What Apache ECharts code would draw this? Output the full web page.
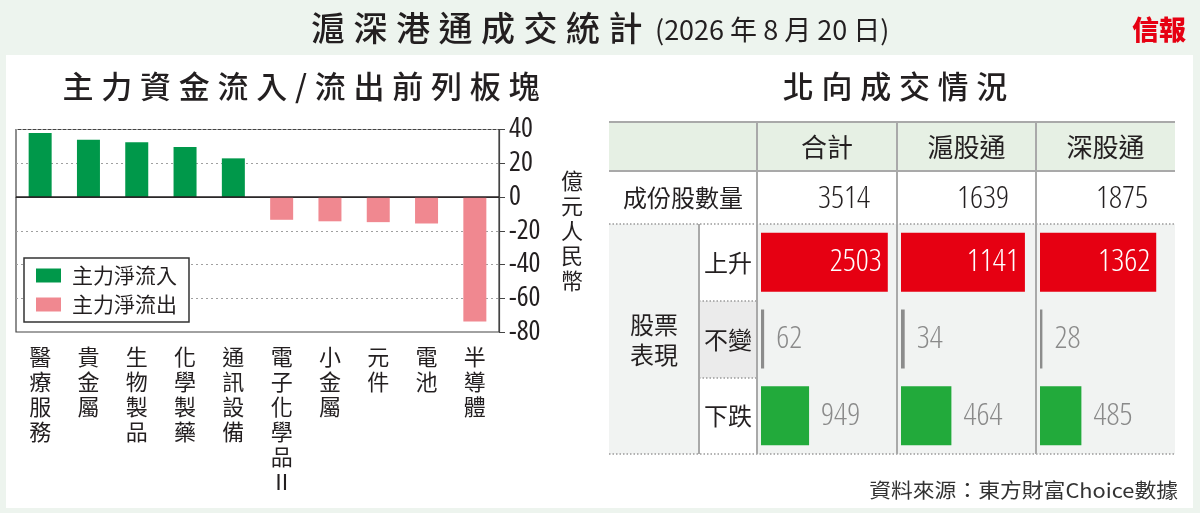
<!DOCTYPE html>
<html>
<head>
<meta charset="utf-8">
<script src="https://cdn.jsdelivr.net/npm/echarts@6/dist/echarts.min.js"></script>
<style>
  html, body { margin: 0; padding: 0; background: #edf4ee; }
  #chart { width: 1200px; height: 513px; }
</style>
</head>
<body>
<div id="chart"></div>
<script>
// left chart: top sectors by main capital flow (億元人民幣)
const sectors = ['醫療服務', '貴金屬', '生物製品', '化學製藥', '通訊設備', '電子化學品Ⅱ', '小金屬', '元件', '電池', '半導體'];
const inflow = [38.0, 33.9, 32.5, 29.6, 22.9, '-', '-', '-', '-', '-'];
const outflow = ['-', '-', '-', '-', '-', -13.5, -14.4, -14.9, -15.7, -73.8];
const legendNames = ['主力淨流入', '主力淨流出'];

// right table: northbound trading
const tableCols = ['合計', '滬股通', '深股通'];
const constituents = [3514, 1639, 1875];
const rising = [2503, 1141, 1362];
const unchanged = [62, 34, 28];
const falling = [949, 464, 485];
const perfRows = ['上升', '不變', '下跌'];

const CJK = '"Noto Sans CJK TC", "Noto Sans CJK SC", sans-serif';
const NUM = '"Open Sans", sans-serif';
const INK = '#231f20';

// wide tracking for the headings
const spaced = (s) => s.split('').join('\u2005');

const chart = echarts.init(document.getElementById('chart'));

// table geometry
const colEdges = [757, 897, 1036, 1175];
const tblLeft = 609, subCol = 699;
const rowY = [122, 171, 224, 301, 378, 454];

const graphics = [];
// white panel
graphics.push({ type: 'rect', z: -10, shape: { x: 6, y: 55, width: 1187, height: 453 }, style: { fill: '#fff' } });
// titles
graphics.push({ type: 'text', x: 311, y: 28, style: { text: spaced('滬深港通成交統計'), font: '500 34px ' + CJK, fill: INK, verticalAlign: 'middle' } });
graphics.push({ type: 'text', x: 655, y: 30, style: { text: '(2026 年 8 月 20 日)', font: '27px ' + CJK, fill: INK, verticalAlign: 'middle' } });
graphics.push({ type: 'text', x: 1186, y: 30, style: { text: '信報', font: '900 27px ' + CJK, fill: '#e60012', align: 'right', verticalAlign: 'middle' } });
graphics.push({ type: 'text', x: 301, y: 86, style: { text: spaced('主力資金流入/流出前列板塊'), font: '500 31px ' + CJK, fill: INK, align: 'center', verticalAlign: 'middle' } });
graphics.push({ type: 'text', x: 895, y: 86, style: { text: spaced('北向成交情況'), font: '500 31px ' + CJK, fill: INK, align: 'center', verticalAlign: 'middle' } });

// table backgrounds
graphics.push({ type: 'rect', z: -5, shape: { x: tblLeft, y: rowY[0], width: 1175 - tblLeft, height: rowY[1] - rowY[0] }, style: { fill: '#e6f0e4' } });
graphics.push({ type: 'rect', z: -5, shape: { x: tblLeft, y: rowY[2], width: 1175 - tblLeft, height: rowY[5] - rowY[2] }, style: { fill: '#f1f3f2' } });
graphics.push({ type: 'rect', z: -4, shape: { x: subCol, y: rowY[2], width: colEdges[0] - subCol, height: rowY[3] - rowY[2] }, style: { fill: '#fff' } });
graphics.push({ type: 'rect', z: -4, shape: { x: subCol, y: rowY[3], width: colEdges[0] - subCol, height: rowY[4] - rowY[3] }, style: { fill: '#ebebeb' } });
graphics.push({ type: 'rect', z: -4, shape: { x: subCol, y: rowY[4], width: colEdges[0] - subCol, height: rowY[5] - rowY[4] }, style: { fill: '#fff' } });

// table lines
const solid = { stroke: '#a9a9a9', lineWidth: 2 };
const dotted = { stroke: '#9a9a9a', lineWidth: 1.5, lineDash: [1.5, 2] };
graphics.push({ type: 'line', shape: { x1: tblLeft, y1: rowY[0], x2: 1175, y2: rowY[0] }, style: solid });
graphics.push({ type: 'line', shape: { x1: tblLeft, y1: rowY[1], x2: 1175, y2: rowY[1] }, style: solid });
graphics.push({ type: 'line', shape: { x1: tblLeft, y1: rowY[2], x2: 1175, y2: rowY[2] }, style: dotted });
graphics.push({ type: 'line', shape: { x1: subCol, y1: rowY[3], x2: colEdges[0], y2: rowY[3] }, style: dotted });
graphics.push({ type: 'line', shape: { x1: subCol, y1: rowY[4], x2: colEdges[0], y2: rowY[4] }, style: dotted });
graphics.push({ type: 'line', shape: { x1: tblLeft, y1: rowY[5], x2: 1175, y2: rowY[5] }, style: dotted });
colEdges.slice(0, 3).forEach((x) => {
  graphics.push({ type: 'line', shape: { x1: x, y1: rowY[0], x2: x, y2: rowY[5] }, style: solid });
});
graphics.push({ type: 'line', shape: { x1: subCol, y1: rowY[2], x2: subCol, y2: rowY[5] }, style: solid });

// table texts
tableCols.forEach((name, i) => {
  const cx = (colEdges[i] + colEdges[i + 1]) / 2;
  graphics.push({ type: 'text', x: cx, y: 147, style: { text: name, font: '26px ' + CJK, fill: INK, align: 'center', verticalAlign: 'middle' } });
  graphics.push({ type: 'text', x: colEdges[i + 1] - 27, y: 199, style: { text: String(constituents[i]), font: 'condensed 300 32px ' + NUM, fill: INK, align: 'right', verticalAlign: 'middle' } });
});
graphics.push({ type: 'text', x: 683, y: 198, style: { text: '成份股數量', font: '24px ' + CJK, fill: INK, align: 'center', verticalAlign: 'middle' } });
perfRows.forEach((name, i) => {
  graphics.push({ type: 'text', x: 728, y: (rowY[i + 2] + rowY[i + 3]) / 2, style: { text: name, font: '24px ' + CJK, fill: INK, align: 'center', verticalAlign: 'middle' } });
});
graphics.push({ type: 'text', x: 654, y: 340, style: { text: '股票\n表現', font: '24px ' + CJK, lineHeight: 30, fill: INK, align: 'center', verticalAlign: 'middle' } });
graphics.push({ type: 'text', x: 1178, y: 490, scaleX: 1.09, style: { text: '資料來源：東方財富Choice數據', font: '20px ' + CJK, fill: '#333', align: 'right', verticalAlign: 'middle' } });

// grids: 0 = left chart, 1..3 = table bar cells
const grids = [{ left: 16, right: 701, top: 129.5, bottom: 181, show: true, borderColor: '#444', borderWidth: 1.2 }];
const xAxes = [{
  type: 'category',
  gridIndex: 0,
  data: sectors,
  axisLine: { lineStyle: { color: '#444', width: 1.2 } },
  axisTick: { alignWithLabel: true, length: 6, lineStyle: { color: '#444' } },
  axisLabel: {
    interval: 0,
    margin: 12,
    color: INK,
    fontFamily: CJK,
    fontSize: 22,
    lineHeight: 25,
    verticalAlign: 'top',
    formatter: (v) => v.split('').join('\n'),
  },
}];
const yAxes = [{
  type: 'value',
  gridIndex: 0,
  position: 'right',
  min: -80,
  max: 40,
  interval: 20,
  name: '億\n元\n人\n民\n幣',
  nameLocation: 'middle',
  nameGap: 62,
  nameRotate: 0,
  nameTextStyle: { fontFamily: CJK, fontSize: 22, lineHeight: 25, color: INK },
  axisLine: { show: true, lineStyle: { color: '#444', width: 1.2 } },
  axisTick: { show: true, length: 6, lineStyle: { color: '#444' } },
  axisLabel: { margin: 10, color: INK, fontFamily: NUM, fontWeight: 'condensed 400', fontSize: 28 },
  splitLine: { show: true, lineStyle: { color: '#a0a0a0', type: [2, 3], width: 1.2 } },
}];

const series = [
  {
    name: legendNames[0],
    type: 'bar',
    stack: 'flow',
    xAxisIndex: 0,
    yAxisIndex: 0,
    barWidth: 23,
    itemStyle: { color: '#00984a' },
    data: inflow,
    markLine: {
      silent: true,
      symbol: 'none',
      label: { show: false },
      lineStyle: { color: INK, type: 'solid', width: 1.6 },
      data: [{ yAxis: 0 }],
    },
  },
  {
    name: legendNames[1],
    type: 'bar',
    stack: 'flow',
    xAxisIndex: 0,
    yAxisIndex: 0,
    barWidth: 23,
    itemStyle: { color: '#f08890' },
    data: outflow,
  },
];

tableCols.forEach((col, i) => {
  const g = i + 1;
  grids.push({ left: colEdges[i] + 4, top: rowY[2], height: rowY[5] - rowY[2], width: 178 });
  xAxes.push({ type: 'value', gridIndex: g, min: 0, max: 1, show: false });
  yAxes.push({ type: 'category', gridIndex: g, data: perfRows, inverse: true, show: false });
  const total = constituents[i];
  series.push({
    name: col,
    type: 'bar',
    xAxisIndex: g,
    yAxisIndex: g,
    barWidth: 59,
    silent: true,
    data: [
      {
        value: rising[i] / total,
        itemStyle: { color: '#e60012' },
        label: { show: true, position: 'insideRight', distance: 6, color: '#fff', formatter: String(rising[i]) },
      },
      {
        value: unchanged[i] / total,
        itemStyle: { color: '#8c8c8c' },
        label: { show: true, position: 'right', distance: 12, color: '#8a8a8a', formatter: String(unchanged[i]) },
      },
      {
        value: falling[i] / total,
        itemStyle: { color: '#22aa3b' },
        label: { show: true, position: 'right', distance: 12, color: '#8a8a8a', formatter: String(falling[i]) },
      },
    ],
    label: { fontFamily: NUM, fontWeight: 'condensed 300', fontSize: 32 },
  });
});

chart.setOption({
  animation: false,
  backgroundColor: '#edf4ee',
  legend: {
    data: legendNames,
    orient: 'vertical',
    left: 24,
    top: 258,
    padding: [7, 12, 7, 12],
    itemGap: 8,
    itemWidth: 25,
    itemHeight: 14,
    icon: 'rect',
    backgroundColor: '#fff',
    borderColor: '#333',
    borderWidth: 1.5,
    textStyle: { fontFamily: CJK, fontSize: 21, color: INK, padding: [0, 0, 0, 6] },
  },
  grid: grids,
  xAxis: xAxes,
  yAxis: yAxes,
  series,
  graphic: { elements: graphics },
});
</script>
</body>
</html>
